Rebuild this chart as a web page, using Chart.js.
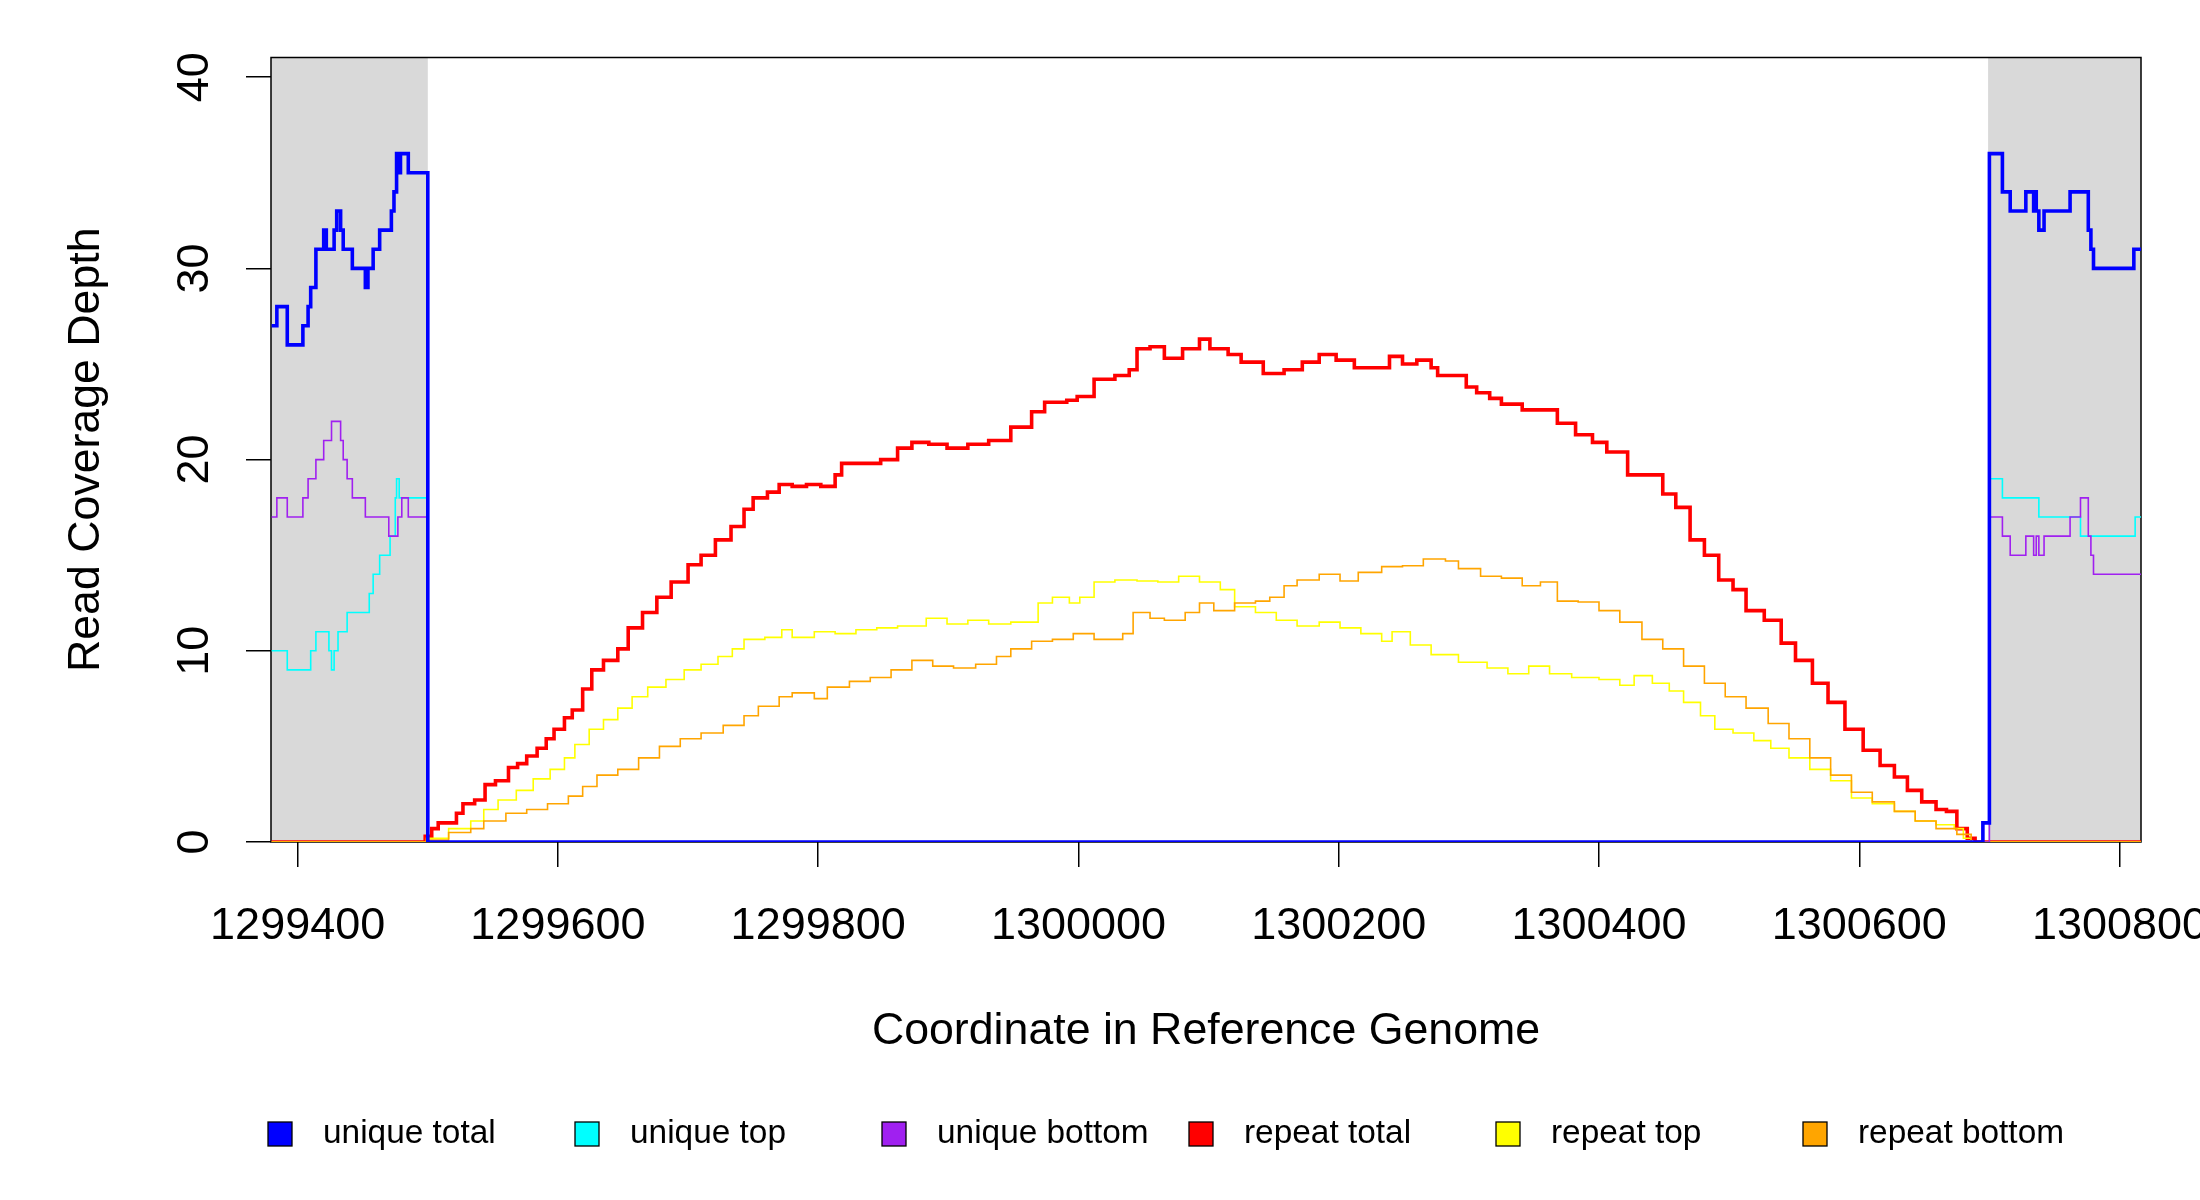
<!DOCTYPE html>
<html>
<head>
<meta charset="utf-8">
<script src="https://cdn.jsdelivr.net/npm/chart.js@4.4.1/dist/chart.umd.min.js"></script>
<style>
	html, body { margin: 0; padding: 0; background: #fff; }
	canvas { display: block; }
</style>
</head>
<body>
<canvas id="chart" width="2200" height="1200"></canvas>
<script>
const seriesNames = ['unique total', 'unique top', 'unique bottom', 'repeat total', 'repeat top', 'repeat bottom']
const seriesColors = ['#0000ff', '#00ffff', '#a020f0', '#ff0000', '#ffff00', '#ffa500']

const xTicks = [1299400, 1299600, 1299800, 1300000, 1300200, 1300400, 1300600, 1300800]
const yTicks = [0, 10, 20, 30, 40]
const xRange = [1299379.5, 1300816.5]
const yRange = [0, 41.03]

// unique (non repeat) regions shaded grey
const shadedRegions = [[1299379.5, 1299500], [1300699, 1300816.5]]

const uniqueTotal = [[1299380, 27], [1299384, 28], [1299392, 26], [1299404, 27], [1299408, 28], [1299410, 29], [1299414, 31], [1299420, 32], [1299422, 31], [1299428, 32], [1299430, 33], [1299433, 32], [1299435, 31], [1299442, 30], [1299452, 29], [1299454, 30], [1299458, 31], [1299463, 32], [1299472, 33], [1299474, 34], [1299476, 36], [1299478, 35], [1299479, 36], [1299485, 35], [1299500, 0], [1300695, 1], [1300700, 36], [1300710, 34], [1300716, 33], [1300728, 34], [1300734, 33], [1300735, 34], [1300736, 33], [1300738, 32], [1300742, 33], [1300762, 34], [1300776, 32], [1300778, 31], [1300780, 30], [1300811, 31], [1300817, 31]]

const uniqueTop = [[1299380, 10], [1299392, 9], [1299410, 10], [1299414, 11], [1299424, 10], [1299426, 9], [1299428, 10], [1299431, 11], [1299438, 12], [1299455, 13], [1299458, 14], [1299463, 15], [1299471, 16], [1299475, 18], [1299476, 19], [1299478, 18], [1299500, 0], [1300695, 1], [1300700, 19], [1300710, 18], [1300738, 17], [1300770, 16], [1300812, 17], [1300817, 17]]

const uniqueBottom = [[1299380, 17], [1299384, 18], [1299392, 17], [1299404, 18], [1299408, 19], [1299414, 20], [1299420, 21], [1299426, 22], [1299433, 21], [1299435, 20], [1299438, 19], [1299442, 18], [1299452, 17], [1299470, 16], [1299477, 17], [1299480, 18], [1299485, 17], [1299500, 0], [1300700, 17], [1300710, 16], [1300716, 15], [1300728, 16], [1300734, 15], [1300736, 16], [1300738, 15], [1300742, 16], [1300762, 17], [1300770, 18], [1300776, 16], [1300778, 15], [1300780, 14], [1300817, 14]]

const repeatTotal = [[1299380, 0], [1299498, 0.3], [1299503, 0.7], [1299508, 1], [1299522, 1.5], [1299527, 2], [1299536, 2.2], [1299544, 3], [1299552, 3.2], [1299562, 3.9], [1299569, 4.1], [1299576, 4.5], [1299584, 4.9], [1299591, 5.4], [1299597, 5.9], [1299605, 6.5], [1299611, 6.9], [1299619, 8], [1299626, 9], [1299635, 9.5], [1299646, 10.1], [1299654, 11.2], [1299665, 12], [1299676, 12.8], [1299687, 13.6], [1299700, 14.5], [1299710, 15], [1299721, 15.8], [1299733, 16.5], [1299743, 17.4], [1299750, 18], [1299761, 18.3], [1299770, 18.7], [1299780, 18.6], [1299791, 18.7], [1299802, 18.6], [1299813, 19.2], [1299818, 19.8], [1299834, 19.8], [1299848, 20], [1299861, 20.6], [1299872, 20.9], [1299885, 20.8], [1299899, 20.6], [1299915, 20.8], [1299931, 21], [1299948, 21.7], [1299964, 22.5], [1299974, 23], [1299991, 23.1], [1299999, 23.3], [1300012, 24.2], [1300028, 24.4], [1300039, 24.7], [1300045, 25.8], [1300055, 25.9], [1300066, 25.3], [1300080, 25.8], [1300093, 26.3], [1300101, 25.8], [1300115, 25.5], [1300125, 25.1], [1300142, 24.5], [1300158, 24.7], [1300172, 25.1], [1300185, 25.5], [1300198, 25.2], [1300212, 24.8], [1300226, 24.8], [1300239, 25.4], [1300249, 25], [1300260, 25.2], [1300271, 24.8], [1300276, 24.4], [1300290, 24.4], [1300298, 23.8], [1300306, 23.5], [1300316, 23.2], [1300325, 22.9], [1300341, 22.6], [1300352, 22.6], [1300368, 21.9], [1300382, 21.3], [1300395, 20.9], [1300406, 20.4], [1300422, 19.2], [1300435, 19.2], [1300449, 18.2], [1300459, 17.5], [1300470, 15.8], [1300481, 15], [1300492, 13.7], [1300503, 13.2], [1300513, 12.1], [1300527, 11.6], [1300540, 10.4], [1300551, 9.5], [1300564, 8.3], [1300576, 7.3], [1300589, 5.9], [1300603, 4.8], [1300616, 4], [1300627, 3.4], [1300637, 2.7], [1300648, 2.1], [1300659, 1.7], [1300667, 1.6], [1300675, 0.7], [1300683, 0.2], [1300689, 0], [1300817, 0]]

const repeatTop = [[1299380, 0], [1299499, 0.2], [1299516, 0.7], [1299533, 1.1], [1299543, 1.7], [1299554, 2.2], [1299568, 2.7], [1299581, 3.3], [1299594, 3.8], [1299605, 4.4], [1299613, 5.1], [1299624, 5.9], [1299635, 6.4], [1299646, 7], [1299657, 7.6], [1299669, 8.1], [1299683, 8.5], [1299697, 9], [1299710, 9.3], [1299723, 9.7], [1299734, 10.1], [1299743, 10.6], [1299759, 10.7], [1299772, 11.1], [1299780, 10.7], [1299797, 11], [1299813, 10.9], [1299829, 11.1], [1299845, 11.2], [1299861, 11.3], [1299883, 11.7], [1299899, 11.4], [1299915, 11.6], [1299931, 11.4], [1299948, 11.5], [1299969, 12.5], [1299980, 12.8], [1299993, 12.5], [1300001, 12.8], [1300012, 13.6], [1300028, 13.7], [1300045, 13.65], [1300061, 13.6], [1300077, 13.9], [1300093, 13.6], [1300109, 13.2], [1300120, 12.3], [1300136, 12], [1300152, 11.6], [1300168, 11.3], [1300185, 11.5], [1300201, 11.2], [1300217, 10.9], [1300233, 10.5], [1300241, 11], [1300255, 10.3], [1300271, 9.8], [1300292, 9.4], [1300314, 9.1], [1300330, 8.8], [1300346, 9.2], [1300362, 8.8], [1300379, 8.6], [1300400, 8.5], [1300416, 8.2], [1300427, 8.7], [1300441, 8.3], [1300454, 7.9], [1300465, 7.3], [1300478, 6.6], [1300489, 5.9], [1300503, 5.7], [1300519, 5.3], [1300532, 4.9], [1300546, 4.4], [1300562, 3.8], [1300578, 3.2], [1300594, 2.3], [1300610, 2], [1300627, 1.6], [1300643, 1.1], [1300659, 0.9], [1300673, 0.7], [1300680, 0.2], [1300686, 0], [1300817, 0]]

const repeatBottom = [[1299380, 0], [1299499, 0.1], [1299516, 0.5], [1299533, 0.7], [1299543, 1.1], [1299560, 1.5], [1299576, 1.7], [1299592, 2], [1299608, 2.4], [1299619, 2.9], [1299630, 3.5], [1299646, 3.8], [1299662, 4.4], [1299678, 5], [1299694, 5.4], [1299710, 5.7], [1299727, 6.1], [1299743, 6.6], [1299754, 7.1], [1299770, 7.6], [1299780, 7.8], [1299797, 7.5], [1299807, 8.1], [1299824, 8.4], [1299840, 8.6], [1299856, 9], [1299872, 9.5], [1299888, 9.2], [1299904, 9.1], [1299921, 9.3], [1299937, 9.7], [1299948, 10.1], [1299964, 10.5], [1299980, 10.6], [1299996, 10.9], [1300012, 10.6], [1300034, 10.9], [1300042, 12], [1300055, 11.7], [1300066, 11.6], [1300082, 12], [1300093, 12.5], [1300104, 12.1], [1300120, 12.5], [1300136, 12.6], [1300147, 12.8], [1300158, 13.4], [1300168, 13.7], [1300185, 14], [1300201, 13.65], [1300215, 14.1], [1300233, 14.4], [1300249, 14.45], [1300265, 14.8], [1300282, 14.7], [1300292, 14.3], [1300309, 13.9], [1300325, 13.8], [1300341, 13.4], [1300355, 13.6], [1300368, 12.6], [1300384, 12.55], [1300400, 12.1], [1300416, 11.5], [1300433, 10.6], [1300449, 10.1], [1300465, 9.2], [1300481, 8.3], [1300497, 7.6], [1300513, 7], [1300530, 6.2], [1300546, 5.4], [1300562, 4.4], [1300578, 3.5], [1300594, 2.6], [1300610, 2.1], [1300627, 1.6], [1300643, 1.1], [1300659, 0.7], [1300675, 0.4], [1300686, 0], [1300817, 0]]

const seriesData = [uniqueTotal, uniqueTop, uniqueBottom, repeatTotal, repeatTop, repeatBottom]
const seriesWidths = [3.6, 1.6, 1.6, 3.6, 1.6, 1.6]
// drawing order: lower number ends up on top
const seriesOrder = [1, 3, 2, 6, 5, 4]

const FONT = "'Liberation Sans', Arial, sans-serif"

// grey regions, plot box and the bottom legend
const framePlugin = {
	id: 'frame',
	beforeDatasetsDraw(chart) {
		const { ctx, chartArea, scales } = chart
		ctx.save()
		ctx.fillStyle = '#d9d9d9'
		shadedRegions.forEach(r => {
			const x1 = Math.max(scales.x.getPixelForValue(r[0]), chartArea.left)
			const x2 = Math.min(scales.x.getPixelForValue(r[1]), chartArea.right)
			ctx.fillRect(x1, chartArea.top, x2 - x1, chartArea.bottom - chartArea.top)
		})
		ctx.strokeStyle = '#000'
		ctx.lineWidth = 1.5
		ctx.strokeRect(chartArea.left, chartArea.top, chartArea.right - chartArea.left, chartArea.bottom - chartArea.top)
		ctx.restore()
	},
	afterDraw(chart) {
		const { ctx } = chart
		ctx.save()
		ctx.font = '33.4px ' + FONT
		ctx.textBaseline = 'middle'
		ctx.textAlign = 'left'
		const y = 1134
		chart.data.datasets.forEach((ds, i) => {
			const x = 268 + i * 307
			ctx.fillStyle = ds.borderColor
			ctx.fillRect(x, y - 12, 24, 24)
			ctx.strokeStyle = '#000'
			ctx.lineWidth = 1.3
			ctx.strokeRect(x, y - 12, 24, 24)
			ctx.fillStyle = '#000'
			ctx.fillText(ds.label, x + 55, y)
		})
		ctx.restore()
	},
}

new Chart(document.getElementById('chart'), {
	type: 'line',
	data: {
		datasets: seriesNames.map((name, i) => ({
			label: name,
			data: seriesData[i],
			borderColor: seriesColors[i],
			backgroundColor: seriesColors[i],
			borderWidth: seriesWidths[i],
			order: seriesOrder[i],
			stepped: true,
			pointRadius: 0,
			fill: false,
		})),
	},
	options: {
		responsive: false,
		devicePixelRatio: 1,
		animation: false,
		layout: { padding: { top: 57.5, right: 59, bottom: 0, left: 0 } },
		plugins: {
			legend: { display: false },
			tooltip: { enabled: false },
		},
		scales: {
			x: {
				type: 'linear',
				min: xRange[0],
				max: xRange[1],
				afterBuildTicks: scale => {
					scale.ticks = xTicks.map(v => ({ value: v }))
				},
				afterFit: scale => {
					scale.height = 358
					scale.paddingLeft = 0
					scale.paddingRight = 0
				},
				border: { display: false },
				grid: { drawOnChartArea: false, drawTicks: true, tickLength: 25, color: '#000', lineWidth: 1.5 },
				ticks: {
					color: '#000',
					font: { family: FONT, size: 45 },
					padding: 33,
					maxRotation: 0,
					autoSkip: false,
					callback: v => String(v),
				},
				title: {
					display: true,
					text: 'Coordinate in Reference Genome',
					color: '#000',
					font: { family: FONT, size: 44.7 },
					padding: { top: 0, bottom: 142 },
				},
			},
			y: {
				type: 'linear',
				min: yRange[0],
				max: yRange[1],
				afterBuildTicks: scale => {
					scale.ticks = yTicks.map(v => ({ value: v }))
				},
				afterFit: scale => {
					scale.width = 271
					scale.paddingTop = 0
					scale.paddingBottom = 0
				},
				border: { display: false },
				grid: { drawOnChartArea: false, drawTicks: true, tickLength: 25, color: '#000', lineWidth: 1.5 },
				ticks: {
					color: '#000',
					font: { family: FONT, size: 45 },
					padding: 25,
					minRotation: 90,
					maxRotation: 90,
					crossAlign: 'center',
					autoSkip: false,
					callback: v => String(v),
				},
				title: {
					display: true,
					text: 'Read Coverage Depth',
					color: '#000',
					font: { family: FONT, size: 44.7 },
					padding: { top: 60, bottom: 0 },
				},
			},
		},
	},
	plugins: [framePlugin],
})
</script>
</body>
</html>
